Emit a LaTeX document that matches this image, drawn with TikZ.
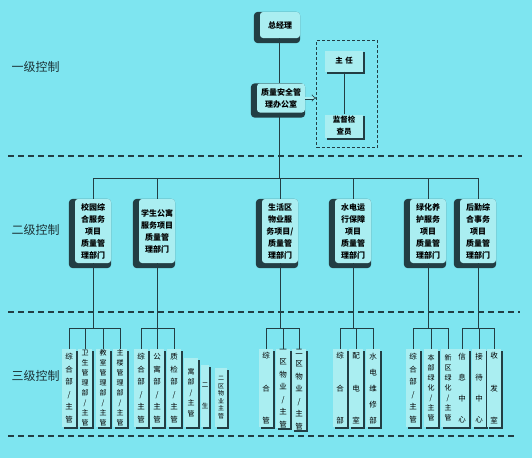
\documentclass[tikz,border=0pt]{standalone}
\usepackage{fontspec}
\setmainfont{Noto Sans CJK SC}
\usetikzlibrary{positioning,arrows.meta,fit}
\definecolor{bgcyan}{RGB}{126,229,240}
\definecolor{boxcyan}{RGB}{170,238,241}
\definecolor{inkdark}{RGB}{34,62,68}
\pgfdeclarelayer{back}
\pgfdeclarelayer{shade}
\pgfsetlayers{back,shade,main}
\tikzset{
  mgr/.style={fill=boxcyan, rounded corners=3pt, align=center, inner sep=1pt,
    font=\fontsize{8}{12}\selectfont\bfseries},
  dept/.style={mgr, minimum width=36pt, minimum height=64pt},
  lshade/.style={fill=inkdark, rounded corners=4pt},
  aide/.style={fill=boxcyan, align=center, inner sep=1pt, minimum width=38pt,
    font=\fontsize{7.5}{12}\selectfont\bfseries},
  leaf/.style={fill=boxcyan, anchor=north, align=center, inner sep=0pt,
    minimum width=14pt, minimum height=78pt, font=\fontsize{7.5}{12.5}\selectfont},
  dense/.style={font=\fontsize{7}{10}\selectfont},
  rshade/.style={fill=inkdark},
  dashbox/.style={draw=inkdark, dashed, dash pattern=on 3pt off 2pt, line width=.9pt,
    inner xsep=8pt, inner ysep=10pt},
  sep/.style={dashed, dash pattern=on 6pt off 4pt, line width=1.3pt, inkdark},
  link/.style={line width=1pt, inkdark},
  lvl/.style={font=\fontsize{12}{14}\selectfont, anchor=west, text=inkdark!80!black},
}
\begin{document}
\begin{tikzpicture}[x=1pt,y=-1pt]
\begin{pgfonlayer}{back}
\fill[bgcyan] (0,0) rectangle (532,458);
\end{pgfonlayer}
\useasboundingbox (0,0) rectangle (532,458);

% levels
\draw[sep] (8,156) -- (522,156);
\draw[sep] (8,312) -- (520,312);
\draw[sep] (8,436) -- (514,436);
\node[lvl] (lv1) at (8,67) {一级控制};
\node[lvl] (lv2) at (8,230) {二级控制};
\node[lvl] (lv3) at (8,376) {三级控制};

% level 1
\node[mgr, minimum width=40pt, minimum height=26pt] (zjl) at (280,25) {总经理};
\node[mgr, minimum width=48pt, minimum height=29pt] (office) at (281,98) {质量安全管\\理办公室};
\node[aide, minimum height=21pt] (zr) at (344,61) {主\,\,任};
\node[aide, minimum height=23pt] (jd) at (344,126) {监督检\\查员};
\coordinate (grpse) at ([xshift=6pt]jd.south east);
\node[dashbox, fit=(zr)(jd)(grpse)] (grp) {};
\draw[link] (zjl.south -| 279,0) -- (office.north -| 279,0);
\draw[link] (zr) -- (jd);
\draw[inkdark, line width=.6pt, double=boxcyan, double distance=1.8pt, -{Implies}]
  (office.east) -- (office.east -| grp.west);

% level 2
\coordinate (bus) at (0,178);
\node[dept] (A) at (93,231) {校园综\\合服务\\项目\\质量管\\理部门};
\node[dept] (B) at (157,231) {学生公寓\\服务项目\\质量管\\理部门};
\node[dept] (C) at (280,231) {生活区\\物业服\\务项目/\\质量管\\理部门};
\node[dept] (D) at (353,231) {水电运\\行保障\\项目\\质量管\\理部门};
\node[dept] (E) at (428,231) {绿化养\\护服务\\项目\\质量管\\理部门};
\node[dept] (F) at (478,231) {后勤综\\合事务\\项目\\质量管\\理部门};
\draw[link] (office.south -| 279,0) -- (bus -| 279,0);
\draw[link] (bus -| A) -- (bus -| F);
\foreach \p in {A,B,C,D,E,F}
  \draw[link] (bus -| \p) -- (\p.north);

% level 3
\coordinate (sub) at (0,328);
\node[leaf] (a1) at (69,349) {综\\合\\部\\/\\主\\管};
\node[leaf, dense] (a2) at (85,349) {卫\\生\\管\\理\\部\\/\\主\\管};
\node[leaf, dense] (a3) at (103,349) {教\\室\\管\\理\\部\\/\\主\\管};
\node[leaf, dense] (a4) at (120,349) {主\\楼\\管\\理\\部\\/\\主\\管};
\node[leaf] (b1) at (141,349) {综\\合\\部\\/\\主\\管};
\node[leaf] (b2) at (157,349) {公\\寓\\部\\/\\主\\管};
\node[leaf] (b3) at (174,349) {质\\检\\部\\/\\主\\管};
\node[leaf, minimum height=69pt, font=\fontsize{7}{10.5}\selectfont] (b4) at (191,358) {寓\\部\\/\\主\\管};
\node[leaf, minimum width=8pt, minimum height=62pt, font=\fontsize{6.5}{21}\selectfont] (b5) at (205,365) {二\\生};
\node[leaf, minimum width=12pt, minimum height=59pt, font=\fontsize{6}{7.6}\selectfont] (b6) at (221,368) {二\\区\\物\\业\\主\\管};
\node[leaf] (c1) at (266,349) {综\\[20pt]合\\[20pt]管};
\node[leaf] (c2) at (283,349) {一\\区\\物\\业\\/\\主\\管};
\node[leaf] (c3) at (299,349) {二\\区\\物\\业\\/\\主\\管};
\node[leaf] (d1) at (340,349) {综\\[20pt]合\\[20pt]部};
\node[leaf] (d2) at (356,349) {配\\[20pt]电\\[20pt]室};
\node[leaf, font=\fontsize{7.5}{16}\selectfont] (d3) at (373,349) {水\\电\\维\\修\\部};
\node[leaf] (e1) at (413,349) {综\\合\\部\\/\\主\\管};
\node[leaf, dense] (e2) at (431,349) {本\\部\\绿\\化\\/\\主\\管};
\node[leaf, dense] (e3) at (448,349) {新\\区\\绿\\化\\/\\主\\管};
\node[leaf, font=\fontsize{7.5}{21}\selectfont] (f1) at (462,349) {信\\息\\中\\心};
\node[leaf, font=\fontsize{7.5}{21}\selectfont] (f2) at (479,349) {接\\待\\中\\心};
\node[leaf] (f3) at (494,349) {收\\[20pt]发\\[20pt]室};
\foreach \p/\a/\z in {A/a1/a4, B/b1/b3, C/c1/c3, D/d1/d3, E/e1/e3, F/f1/f3} {
  \draw[link] (\p.south) -- (\p.south |- sub);
  \draw[link] (\a.north) |- (sub -| \z.north) -- (\z.north);
}
\foreach \m in {a2,a3,b2,c2,d2,e2,f2}
  \draw[link] (\m.north) -- (\m.north |- sub);

% shadows
\begin{pgfonlayer}{shade}
\foreach \n in {zjl,office,A,B,C,D,E,F}
  \fill[lshade] ([xshift=-6pt]\n.north west) rectangle ([yshift=-5pt]\n.south east);
\foreach \n in {zr,jd,a1,a2,a3,a4,b1,b2,b3,b4,b5,b6,c1,c2,c3,d1,d2,d3,e1,e2,e3,f1,f2,f3}
  \fill[rshade] ([xshift=1.8pt,yshift=-1.8pt]\n.north west) rectangle ([xshift=1.8pt,yshift=-1.8pt]\n.south east);
\end{pgfonlayer}
\end{tikzpicture}
\end{document}
